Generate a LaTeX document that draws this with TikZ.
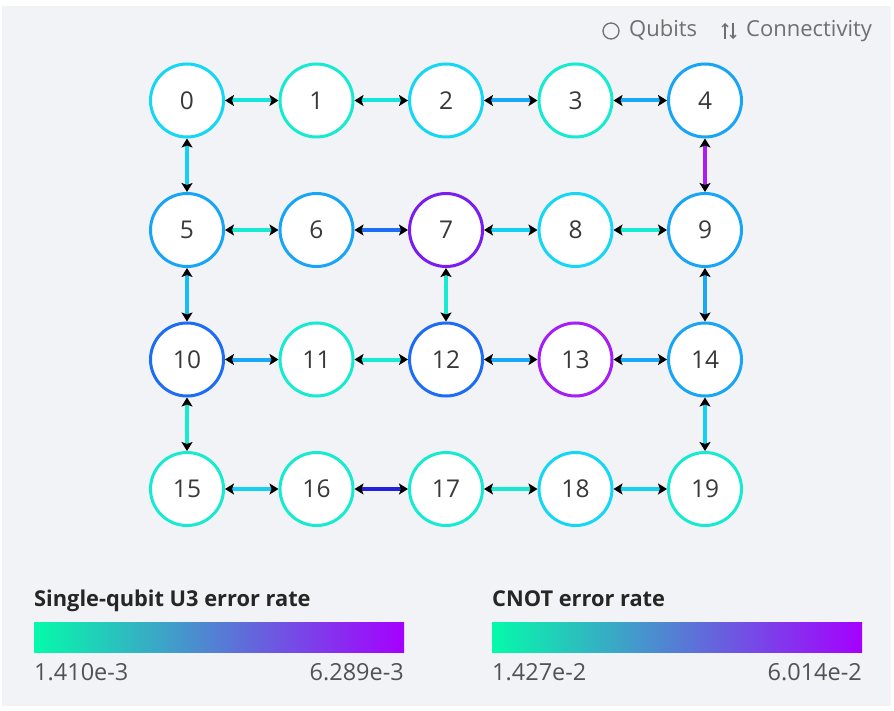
\documentclass[tikz,border=0pt]{standalone}
\usepackage{fontspec}
\setmainfont{Open Sans}
\usetikzlibrary{arrows.meta}
\definecolor{panel}{RGB}{242,243,247}
\definecolor{txt}{RGB}{57,57,57}
\definecolor{legtxt}{RGB}{111,111,111}
\definecolor{ttl}{RGB}{38,38,38}
\definecolor{numtxt}{RGB}{82,82,82}
\definecolor{aqua}{RGB}{22,234,208}
\definecolor{cyanq}{RGB}{20,214,245}
\definecolor{blueA}{RGB}{25,165,245}
\definecolor{blueB}{RGB}{28,108,245}
\definecolor{purp}{RGB}{122,30,240}
\definecolor{viol}{RGB}{165,30,245}
\definecolor{eaqua}{RGB}{20,228,222}
\definecolor{ecyan}{RGB}{20,208,245}
\definecolor{eblue}{RGB}{25,168,245}
\definecolor{emid}{RGB}{20,190,245}
\definecolor{edeep}{RGB}{30,110,245}
\definecolor{edark}{RGB}{32,32,222}
\definecolor{epurp}{RGB}{170,30,240}
\definecolor{gA}{RGB}{5,250,170}
\definecolor{gB}{RGB}{75,140,215}
\definecolor{gC}{RGB}{165,0,255}
\tikzset{
  qubit/.style={circle, draw, line width=3pt, fill=white, minimum size=73pt, inner sep=0pt,
    text=txt, font=\fontsize{24.5}{24.5}\selectfont},
  link/.style={line width=4pt, {Stealth[length=9pt,width=11pt,inset=2pt,color=black]}-{Stealth[length=9pt,width=11pt,inset=2pt,color=black]}},
  legend/.style={text=legtxt, font=\fontsize{22}{22}\selectfont, anchor=base west, inner sep=0pt},
  bartitle/.style={text=ttl, font=\bfseries\fontsize{21.8}{21.8}\selectfont, anchor=base west, inner sep=0pt},
  barnum/.style={text=numtxt, font=\fontsize{23.5}{23.5}\selectfont, inner sep=0pt}
}
\begin{document}
\begin{tikzpicture}[x=1pt,y=-1pt]
\useasboundingbox (0,0) rectangle (894,711);
\fill[white] (0,0) rectangle (894,711);
\fill[panel] (2,6) rectangle (891,706);
% legend
\draw[legtxt, line width=1.3pt] (611,31) circle (8);
\node[legend] (lq) at (629,37) {Qubits};
\coordinate (ua) at (725,39); \coordinate (ub) at (725,23);
\coordinate (da) at (733,23); \coordinate (db) at (733,39);
\draw[legtxt, line width=1.3pt, -{Straight Barb[length=3pt,width=6pt]}] (ua) -- (ub);
\draw[legtxt, line width=1.3pt, -{Straight Barb[length=3pt,width=6pt]}] (da) -- (db);
\node[legend] (lc) at (746,37) {Connectivity};
% qubits
\foreach \n/\c/\x/\y in {0/cyanq/187/100.5, 1/aqua/316.5/100.5, 2/cyanq/446/100.5, 3/aqua/575.5/100.5, 4/blueA/705/100.5,
  5/blueA/187/230, 6/blueA/316.5/230, 7/purp/446/230, 8/cyanq/575.5/230, 9/blueA/705/230,
  10/blueB/187/359.5, 11/aqua/316.5/359.5, 12/blueB/446/359.5, 13/viol/575.5/359.5, 14/blueA/705/359.5,
  15/aqua/187/489, 16/aqua/316.5/489, 17/aqua/446/489, 18/cyanq/575.5/489, 19/aqua/705/489}
  {\node[qubit, draw=\c] (n\n) at (\x,\y) {\n};}
% links
\foreach \a/\b/\c in {0/1/eaqua, 1/2/eaqua, 2/3/eblue, 3/4/eblue, 4/9/epurp, 0/5/ecyan,
  5/6/aqua, 6/7/edeep, 7/8/ecyan, 8/9/aqua, 5/10/emid, 7/12/aqua, 9/14/eblue,
  10/11/eblue, 11/12/aqua, 12/13/eblue, 13/14/eblue, 10/15/aqua, 14/19/ecyan,
  15/16/ecyan, 16/17/edark, 17/18/aqua, 18/19/ecyan}
  {\draw[link, draw=\c] (n\a) -- (n\b);}
% colour bars
\node[bartitle] (t1) at (34,606) {Single-qubit U3 error rate};
\shade[left color=gA, middle color=gB, right color=gC] (34,622) rectangle (404,652);
\node[barnum, anchor=base west] (l1) at (34,680) {1.410e-3};
\node[barnum, anchor=base east] (r1) at (404,680) {6.289e-3};
\node[bartitle] (t2) at (492,606) {CNOT error rate};
\shade[left color=gA, middle color=gB, right color=gC] (492,622) rectangle (862,652);
\node[barnum, anchor=base west] (l2) at (492,680) {1.427e-2};
\node[barnum, anchor=base east] (r2) at (862,680) {6.014e-2};
\end{tikzpicture}
\end{document}
